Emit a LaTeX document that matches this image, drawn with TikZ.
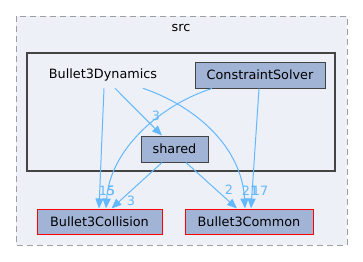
\documentclass[tikz,border=0pt]{standalone}
\usepackage{fontspec}
\setmainfont{DejaVu Sans}
\usetikzlibrary{arrows.meta}

\definecolor{dirfill}{HTML}{A2B4D6}
\definecolor{clusterfill}{HTML}{EDF0F7}
\definecolor{deplink}{HTML}{63B8FF}
\definecolor{dirborder}{HTML}{444444}

\tikzset{
  dep/.style={draw=deplink, line width=0.75pt, -{Triangle[length=7.5pt,width=6pt]}},
  deplabel/.style={text=deplink, inner sep=0pt},
}

\begin{document}
\begin{tikzpicture}[x=0.75pt,y=-0.75pt,font=\fontsize{9.6}{11}\selectfont]
      \useasboundingbox (0,0) rectangle (363,261);

      % clusters
      \draw[draw=gray!75, line width=0.75pt, dash pattern=on 4.5pt off 3pt, fill=clusterfill]
        (16,16) rectangle (347,245);
      \draw[draw=dirborder, line width=1.6pt, fill=clusterfill] (27,53) rectangle (335,171);
      \node (src) at (181,28) {src};
      \node[minimum height=19.5pt, inner sep=0pt] (dyn) at (103,75) {Bullet3Dynamics};

      \begin{scope}[every node/.style={draw=dirborder, line width=0.75pt, fill=dirfill,
                                       inner sep=0pt, minimum height=19.5pt}]
        \node[minimum width=97.5pt] (solver) at (260,75) {ConstraintSolver};
        \node[minimum width=50.25pt] (shared) at (174.5,149) {shared};
        \node[draw=red, minimum width=93.75pt, minimum height=18.75pt] (collision) at (99.5,221.5) {Bullet3Collision};
        \node[draw=red, minimum width=96pt, minimum height=18.75pt] (common) at (249,221.5) {Bullet3Common};
      \end{scope}

      % dependencies
      \draw[dep] ([shift={(1,0)}]dyn.south) -- ([shift={(-0.5,0)}]collision.north);
      \draw[dep] ([shift={(12,0)}]dyn.south) -- ([shift={(21.5,0)}]shared.north west);
      \draw[dep] ([shift={(40,0)}]dyn.south)
        .. controls (200,108) and (242,150) .. ([shift={(-4,0)}]common.north);
      \draw[dep] ([shift={(-48,0)}]solver.south)
        .. controls (160,105) and (110,150) .. ([shift={(6.5,0)}]collision.north);
      \draw[dep] ([shift={(-1,0)}]solver.south) -- ([shift={(2,0)}]common.north);
      \draw[dep] ([shift={(-12.5,0)}]shared.south) -- ([shift={(12,0)}]collision.north);
      \draw[dep] ([shift={(11.5,0)}]shared.south) -- ([shift={(-12,0)}]common.north);

      \node[deplabel] (n15) at (107,191) {15};
      \node[deplabel] (n5) at (111,191) {5};
      \node[deplabel] (n3a) at (156,116) {3};
      \node[deplabel] (n3b) at (131,201) {3};
      \node[deplabel] (n2) at (229,190) {2};
      \node[deplabel] (n21) at (250,191) {21};
      \node[deplabel] (n17) at (260,191) {17};

    \end{tikzpicture}
\end{document}
